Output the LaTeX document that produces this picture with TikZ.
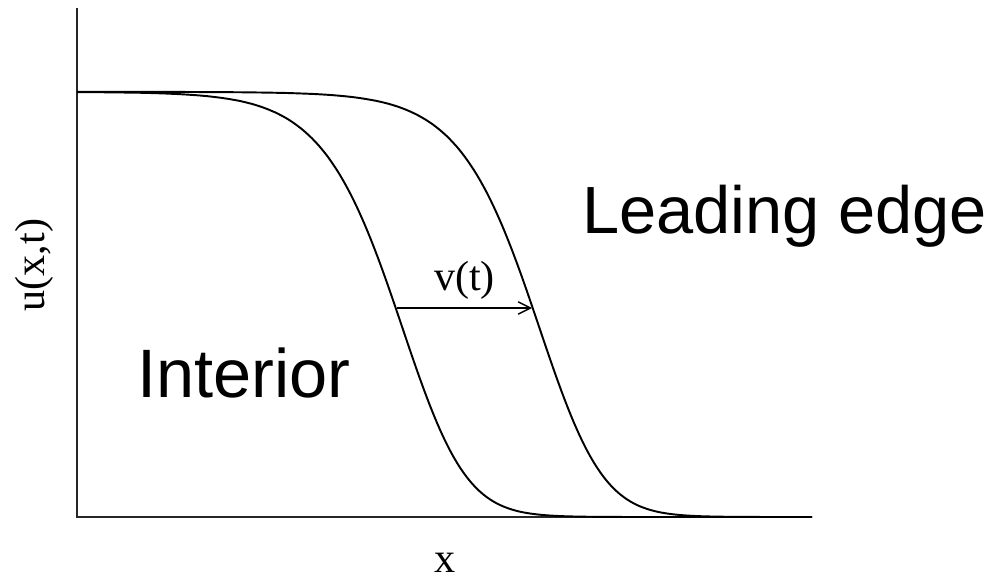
\documentclass[tikz,border=0pt]{standalone}
\usepackage{fontspec}
\setmainfont{Liberation Serif}
\newfontfamily\labelsans{Liberation Sans}
\usepackage{tikz}
\usetikzlibrary{positioning, arrows.meta}

\begin{document}
\begin{tikzpicture}[x=0.02cm, y=-0.02cm]
    \useasboundingbox (0, 0) rectangle (1000, 580);

    % axes
    \coordinate (origin) at (77, 517);
    \coordinate (ytop) at (77, 8);
    \coordinate (xend) at (812, 517);
    \draw[line width=0.8pt, black!85] (ytop) -- (origin) -- (xend);

    % travelling fronts, u = 1/(1+e^z)^2
    \foreach \shift in {432, 569} {
        \draw[line width=1.1pt, smooth, samples=220, domain=77:812]
            plot (\x, {517 - 425*exp(-2*ln(1 + exp(0.0235*(\x - \shift))))});
    }

    % speed arrow
    \coordinate (vstart) at (397, 308);
    \coordinate (vend) at (532, 308);
    \draw[line width=0.8pt, -{Straight Barb[length=7pt, width=7pt]}] (vstart) -- (vend)
        node[midway, above=1pt, font=\fontsize{24}{26}\selectfont] (vlabel) {v(t)};

    % labels
    \node[inner sep=0pt, anchor=base west, font=\labelsans\fontsize{38}{41}\selectfont] (lead) at (582, 234) {Leading edge};
    \node[inner sep=0pt, anchor=base west, font=\labelsans\fontsize{39}{42}\selectfont] (inter) at (137, 398) {Interior};
    \node[rotate=90, font=\fontsize{24}{26}\selectfont] (ylabel) at (34, 265) {u(x,t)};
    \node[inner sep=0pt, anchor=base, font=\fontsize{24}{26}\selectfont] (xlabel) at (445, 572) {x};
\end{tikzpicture}
\end{document}
